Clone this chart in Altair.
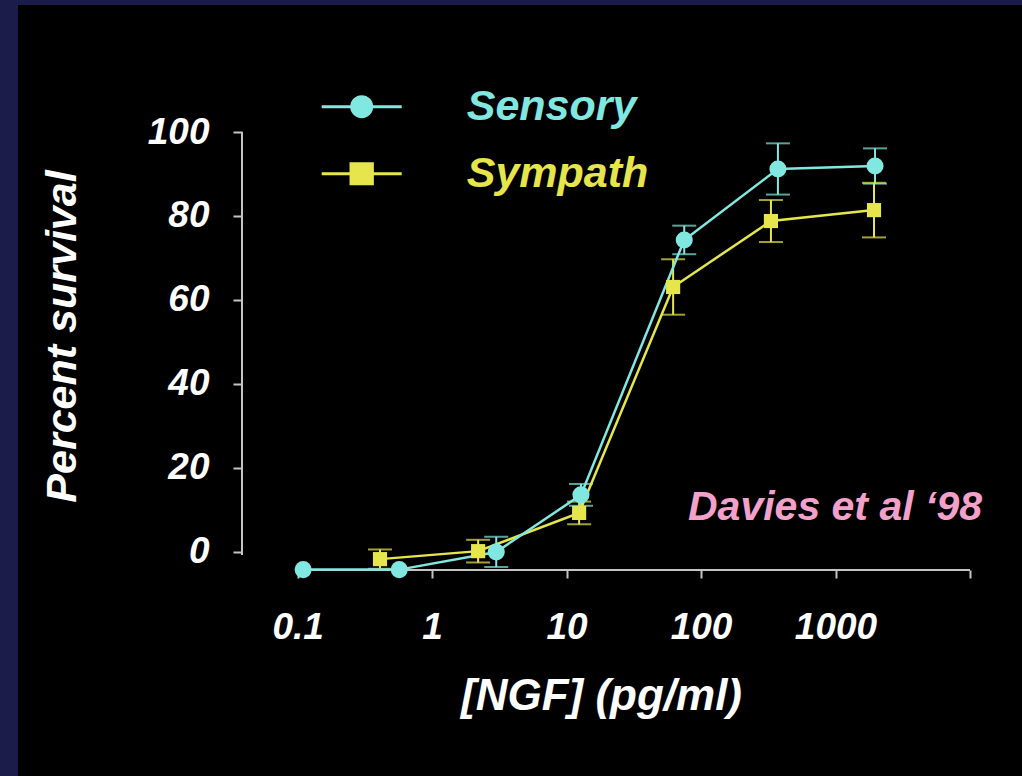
import altair as alt
import pandas as pd

# ---------------- data ----------------
series_names = ["Sensory", "Sympath"]
series_colors = ["#80E8E0", "#E6E64C"]

sensory_ngf = [0.11, 0.57, 3.0, 12.8, 75, 373, 1967]
sensory_survival = [-4.2, -4.2, 0.0, 13.6, 74.3, 91.2, 91.9]
sensory_err = [0, 0, 3.6, 2.6, 3.4, 6.1, 4.2]

sympath_ngf = [0.41, 2.2, 12.4, 62, 331, 1933]
sympath_survival = [-1.7, 0.2, 9.3, 63.1, 78.8, 81.4]
sympath_err = [2.3, 2.7, 2.7, 6.6, 5.0, 6.5]

x_ticks = [0.1, 1, 10, 100, 1000, 10000]
y_ticks = [0, 20, 40, 60, 80, 100]
x_domain = [0.0386, 10000]
y_domain = [-4.29, 100]
x_axis_span = [0.1, 10000]
y_axis_span = [-0.7, 100]

annot_text = ["Davies et al \u201898"]
annot_x = [10000]
annot_y = [10.5]

FONT = "Liberation Sans"
AXIS_GREY = "#C4C4C4"
NAVY = "#1C1C4A"
PINK = "#F3A0CA"
CYAN, YELLOW = series_colors

rows = []
for name, xs_, ys_, es_ in [("Sympath", sympath_ngf, sympath_survival, sympath_err),
                            ("Sensory", sensory_ngf, sensory_survival, sensory_err)]:
    for x, y, e in zip(xs_, ys_, es_):
        rows.append({"series": name, "ngf": x, "survival": y, "lo": y - e, "hi": y + e, "err": e})
df = pd.DataFrame(rows)

xs = alt.Scale(type="log", domain=x_domain)
ys = alt.Scale(domain=y_domain)
cs = alt.Scale(domain=series_names, range=series_colors)

x_axis = alt.Axis(
    values=x_ticks, domain=False, grid=False,
    labelExpr="datum.value >= 10000 ? '' : format(datum.value, '~g')",
    tickColor=AXIS_GREY, tickSize=8, tickWidth=2,
    labelFont=FONT, labelFontSize=37, labelFontStyle="italic", labelFontWeight="bold",
    labelColor="white", labelPadding=31, labelFlush=False, labelOverlap=False,
    title="[NGF] (pg/ml)", titleFont=FONT, titleFontSize=44, titleFontStyle="italic",
    titleFontWeight="bold", titleColor="white", titleX=359, titleY=104,
    titleAlign="center", titleBaseline="top",
)
y_axis = alt.Axis(
    values=y_ticks, domain=False, grid=False,
    tickColor=AXIS_GREY, tickSize=9, tickWidth=2,
    labelFont=FONT, labelFontSize=37, labelFontStyle="italic", labelFontWeight="bold",
    labelColor="white", labelPadding=24, labelFlush=False, labelOverlap=False,
    title="Percent survival", titleFont=FONT, titleFontSize=43, titleFontStyle="italic",
    titleFontWeight="bold", titleColor="white", titleX=-180, titleY=204,
    titleAngle=270, titleAlign="center", titleBaseline="middle",
)


def X(field):
    return alt.X(field, scale=xs, axis=x_axis)


def Y(field):
    return alt.Y(field, scale=ys, axis=y_axis)


# legend symbols: a line with the marker in its middle
circle_path = "M-1.2,0H1.2M-0.3,0A0.3,0.3,0,1,0,0.3,0A0.3,0.3,0,1,0,-0.3,0Z"
square_path = "M-1.2,0H1.2M-0.32,-0.3H0.32V0.3H-0.32Z"


def make_legend(color, y):
    return alt.Legend(
        title=None, orient="none", legendX=84.7, legendY=y, padding=0,
        symbolSize=4444, symbolStrokeWidth=3, symbolOpacity=1,
        rowPadding=0, labelOffset=70,
        labelFont=FONT, labelFontSize=43, labelFontStyle="italic", labelFontWeight="bold",
        labelColor=color, labelLimit=400, labelBaseline="middle",
    )


base = alt.Chart(df)
errdf = base.transform_filter("datum.err > 0")

# axis lines drawn through the scales
xline = alt.Chart(pd.DataFrame({"x": [x_axis_span[0]], "x2": [x_axis_span[1]], "y": [y_domain[0]]})).mark_rule(
    color=AXIS_GREY, strokeWidth=2
).encode(x=X("x:Q"), x2="x2:Q", y=Y("y:Q"))
yline = alt.Chart(pd.DataFrame({"x": [x_domain[0]], "y": [y_axis_span[0]], "y2": [y_axis_span[1]]})).mark_rule(
    color=AXIS_GREY, strokeWidth=2
).encode(x=X("x:Q"), y=Y("y:Q"), y2="y2:Q")

color = alt.Color("series:N", scale=cs, legend=None)

bars = errdf.mark_rule(strokeWidth=2).encode(x=X("ngf:Q"), y=Y("lo:Q"), y2="hi:Q", color=color)
cap_lo = errdf.mark_tick(orient="horizontal", size=24, thickness=2).encode(
    x=X("ngf:Q"), y=Y("lo:Q"), color=color)
cap_hi = errdf.mark_tick(orient="horizontal", size=24, thickness=2).encode(
    x=X("ngf:Q"), y=Y("hi:Q"), color=color)
lines = base.mark_line(strokeWidth=2.5).encode(
    x=X("ngf:Q"), y=Y("survival:Q"), color=color, detail="series:N")
pts_sym = base.transform_filter("datum.series == 'Sympath'").mark_point(
    filled=True, opacity=1, shape="square", size=200
).encode(x=X("ngf:Q"), y=Y("survival:Q"), color=color)
pts_sen = base.transform_filter("datum.series == 'Sensory'").mark_point(
    filled=True, opacity=1, shape="circle", size=290
).encode(x=X("ngf:Q"), y=Y("survival:Q"), color=color)

# legend-only layers (no rows drawn, entries come from the shape scales)
leg_sen = base.transform_filter("false").mark_point(
    filled=True, fill=CYAN, stroke=CYAN, strokeWidth=3, opacity=1
).encode(
    x=X("ngf:Q"), y=Y("survival:Q"),
    shape=alt.Shape("series:N", scale=alt.Scale(domain=[series_names[0]], range=[circle_path]),
                    legend=make_legend(CYAN, -60.3)),
)
leg_sym = base.transform_filter("false").mark_point(
    filled=True, fill=YELLOW, stroke=YELLOW, strokeWidth=3, opacity=1
).encode(
    x=X("ngf:Q"), y=Y("survival:Q"),
    shape=alt.Shape("series:N", scale=alt.Scale(domain=[series_names[1]], range=[square_path]),
                    legend=make_legend(YELLOW, 6.7)),
)

annot = alt.Chart(pd.DataFrame({"t": annot_text, "x": annot_x, "y": annot_y})).mark_text(
    align="right", baseline="middle", dx=12, color=PINK, font=FONT, fontSize=41,
    fontStyle="italic", fontWeight="bold"
).encode(x=X("x:Q"), y=Y("y:Q"), text="t:N")

# decorative slide frame (navy strips on the left and top)
frame_df = pd.DataFrame({"k": [0]})
frame_left = alt.Chart(frame_df).mark_rect(color=NAVY).encode(
    x=alt.value(-242), x2=alt.value(-224), y=alt.value(-132), y2=alt.value(644)
)
frame_top = alt.Chart(frame_df).mark_rect(color=NAVY).encode(
    x=alt.value(-242), x2=alt.value(780), y=alt.value(-132), y2=alt.value(-127)
)

chart = alt.layer(
    frame_left, frame_top, xline, yline, bars, cap_lo, cap_hi, lines, pts_sym, pts_sen,
    leg_sen, leg_sym, annot
).resolve_scale(shape="independent").resolve_legend(shape="independent").properties(
    width=728, height=438,
    autosize=alt.AutoSizeParams(type="none"),
    padding={"left": 242, "top": 132, "right": 52, "bottom": 206},
    background="black",
).configure_view(stroke=None)

chart.save("out.html", embed_options={"renderer": "svg", "actions": False})
